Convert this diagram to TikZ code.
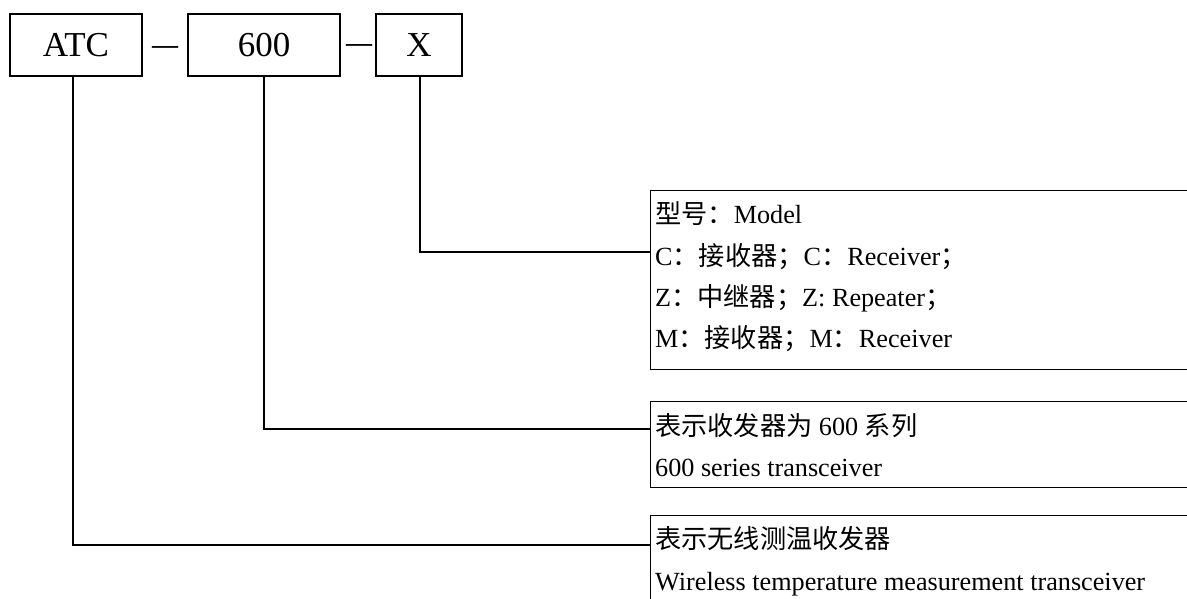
\documentclass[tikz,border=0pt]{standalone}
\usepackage{fontspec}
\setmainfont{Liberation Serif}
\newfontfamily\cjk{Noto Sans CJK SC}
\begin{document}
\begin{tikzpicture}[x=1pt,y=-1pt,
  codebox/.style={draw,line width=1.3pt,minimum height=62pt,inner sep=0pt,font=\fontsize{35}{40}\selectfont},
  descbox/.style={draw,line width=1.3pt,anchor=north west,minimum width=600pt,inner sep=0pt},
  desc/.style={anchor=base west,inner sep=0pt,font=\fontsize{26.2}{30}\selectfont},
  dashtext/.style={inner sep=0pt,font=\fontsize{26}{30}\selectfont\bfseries},
  conn/.style={line width=1.3pt}]
\useasboundingbox (0,0) rectangle (1187,599);
\clip (0,0) rectangle (1187,599);
% top code boxes
\node[codebox,minimum width=132pt] (atc) at (76,45) {};
\node[anchor=base,inner sep=0pt,font=\fontsize{35}{40}\selectfont] (atct) at (76,57) {ATC};
\node[dashtext] (d1) at (165,50) {—};
\node[codebox,minimum width=152pt] (six) at (264,45) {};
\node[anchor=base,inner sep=0pt,font=\fontsize{35}{40}\selectfont] (sixt) at (264,57) {600};
\node[dashtext] (d2) at (359,48) {—};
\node[codebox,minimum width=86pt] (xb) at (419,45) {};
\node[anchor=base,inner sep=0pt,font=\fontsize{35}{40}\selectfont] (xt) at (419,57) {X};
% description boxes
\node[descbox,minimum height=179pt] (mb) at (650,190) {};
\node[desc] (m1) at (655,224) {{\cjk 型号：}Model};
\node[desc] (m2) at (655,265) {C{\cjk ：接收器；}C{\cjk ：}Receiver{\cjk ；}};
\node[desc] (m3) at (655,306) {Z{\cjk ：中继器；}Z: Repeater{\cjk ；}};
\node[desc] (m4) at (655,347) {M{\cjk ：接收器；}M{\cjk ：}Receiver};
\node[descbox,minimum height=86pt] (sb) at (650,401) {};
\node[desc] (s1) at (655,435) {{\cjk 表示收发器为} 600 {\cjk 系列}};
\node[desc] (s2) at (655,476) {600 series transceiver};
\node[descbox,minimum height=120pt] (ab) at (650,515) {};
\node[desc] (a1) at (655,548) {{\cjk 表示无线测温收发器}};
\node[desc] (a2) at (655,590) {Wireless temperature measurement transceiver};
% connectors
\coordinate (mIn) at (650,252);
\coordinate (sIn) at (650,429);
\coordinate (aIn) at (650,545);
\draw[conn] ([xshift=-3pt]atc.south) |- (aIn);
\draw[conn] (six.south) |- (sIn);
\draw[conn] ([xshift=1pt]xb.south) |- (mIn);
\end{tikzpicture}
\end{document}
